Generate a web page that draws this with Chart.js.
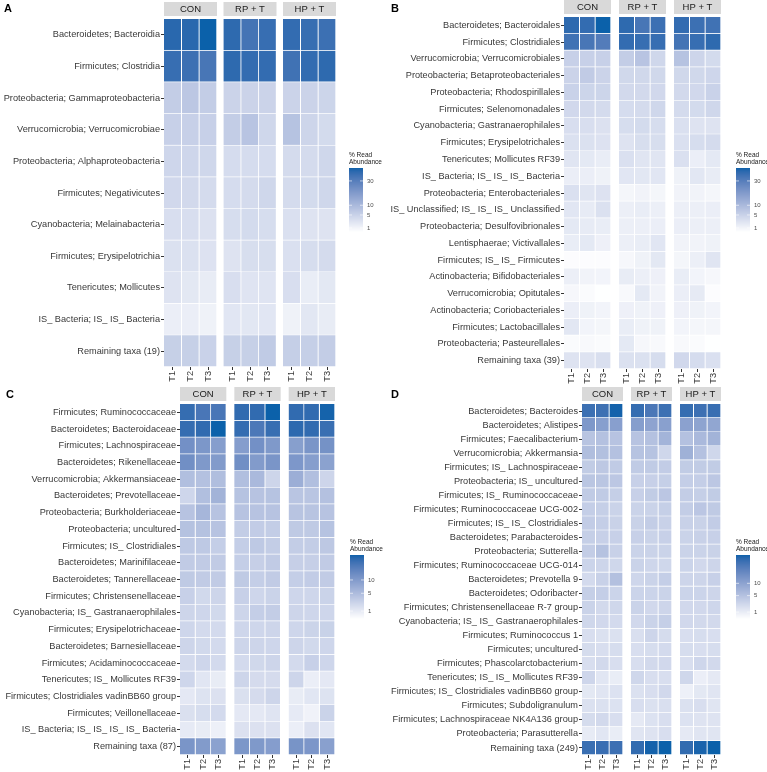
<!DOCTYPE html>
<html>
<head>
<meta charset="utf-8">
<script src="https://cdn.jsdelivr.net/npm/chart.js@4.4.0/dist/chart.umd.min.js"></script>
<style>
  body { margin: 0; background: #fff; width: 767px; height: 772px; position: relative; overflow: hidden; }
  canvas { position: absolute; }
</style>
</head>
<body>
<canvas id="chartA" width="384" height="386" style="left:0;top:0"></canvas>
<canvas id="chartB" width="383" height="386" style="left:384px;top:0"></canvas>
<canvas id="chartC" width="384" height="386" style="left:0;top:386px"></canvas>
<canvas id="chartD" width="383" height="386" style="left:384px;top:386px"></canvas>
<script>
// facets and sampling times (columns: CON T1..T3, RP + T T1..T3, HP + T T1..T3)
const facets = ['CON', 'RP + T', 'HP + T'];
const timepoints = ['T1', 'T2', 'T3'];

// A - class level
const taxaA = [
  'Bacteroidetes; Bacteroidia', 'Firmicutes; Clostridia', 'Proteobacteria; Gammaproteobacteria',
  'Verrucomicrobia; Verrucomicrobiae', 'Proteobacteria; Alphaproteobacteria', 'Firmicutes; Negativicutes',
  'Cyanobacteria; Melainabacteria', 'Firmicutes; Erysipelotrichia', 'Tenericutes; Mollicutes',
  'IS_ Bacteria; IS_ IS_ Bacteria', 'Remaining taxa (19)'
];
const abundanceA = [
  [41, 41, 45, 40, 35, 38, 39, 38, 37],
  [38, 37, 34, 40, 39, 39, 36, 39, 40],
  [5.9, 6.9, 5.9, 4.8, 4.8, 4.8, 4.8, 4.8, 4.6],
  [5.3, 5.3, 5.3, 5.9, 7.5, 4.2, 7.8, 4.5, 3.7],
  [4.3, 4.3, 4.2, 3.5, 3.5, 3.5, 3.6, 3.6, 4.2],
  [4.0, 3.9, 3.6, 3.5, 3.6, 4.2, 3.6, 3.7, 4.2],
  [3.2, 3.2, 2.8, 3.4, 3.7, 3.4, 3.0, 2.6, 2.6],
  [2.9, 2.9, 2.7, 2.6, 3.3, 3.3, 3.0, 3.4, 3.6],
  [2.6, 2.1, 1.7, 3.2, 2.5, 2.5, 3.2, 1.6, 2.1],
  [1.5, 1.5, 1.2, 2.3, 2.2, 2.3, 1.2, 2.2, 1.7],
  [5.4, 5.4, 5.0, 5.4, 5.4, 6.3, 5.5, 5.5, 5.9]
];
const breaksA = [1, 5, 10, 30];
const limitsA = [0.38, 45];

// B - order level
const taxaB = [
  'Bacteroidetes; Bacteroidales', 'Firmicutes; Clostridiales', 'Verrucomicrobia; Verrucomicrobiales',
  'Proteobacteria; Betaproteobacteriales', 'Proteobacteria; Rhodospirillales', 'Firmicutes; Selenomonadales',
  'Cyanobacteria; Gastranaerophilales', 'Firmicutes; Erysipelotrichales', 'Tenericutes; Mollicutes RF39',
  'IS_ Bacteria; IS_ IS_ IS_ Bacteria', 'Proteobacteria; Enterobacteriales', 'IS_ Unclassified; IS_ IS_ IS_ Unclassified',
  'Proteobacteria; Desulfovibrionales', 'Lentisphaerae; Victivallales', 'Firmicutes; IS_ IS_ Firmicutes',
  'Actinobacteria; Bifidobacteriales', 'Verrucomicrobia; Opitutales', 'Actinobacteria; Coriobacteriales',
  'Firmicutes; Lactobacillales', 'Proteobacteria; Pasteurellales', 'Remaining taxa (39)'
];
const abundanceB = [
  [40, 39, 45, 40, 34, 37, 39, 37, 36],
  [36, 34, 31, 39, 38, 38, 35, 38, 40],
  [5.3, 5.3, 5.3, 5.9, 7.5, 4.2, 7.8, 4.5, 3.7],
  [4.8, 6.2, 4.8, 4.1, 4.1, 4.1, 4.1, 4.1, 4.3],
  [5.0, 4.6, 4.6, 3.9, 3.9, 4.0, 3.9, 4.0, 5.0],
  [4.0, 3.9, 3.6, 3.5, 3.6, 4.2, 3.6, 3.7, 4.2],
  [3.2, 3.2, 2.8, 3.4, 3.7, 3.4, 3.0, 2.6, 2.6],
  [2.9, 2.9, 2.7, 2.6, 3.3, 3.3, 3.0, 3.4, 3.6],
  [2.4, 2.0, 1.6, 3.0, 2.4, 2.4, 3.0, 1.5, 2.0],
  [1.5, 1.5, 1.2, 2.3, 2.2, 2.3, 1.2, 2.2, 1.7],
  [3.0, 2.4, 2.7, 0.9, 1.1, 0.9, 1.1, 1.1, 0.9],
  [2.3, 1.8, 2.9, 1.4, 1.6, 1.4, 1.4, 1.4, 1.5],
  [2.0, 1.8, 1.6, 1.4, 1.4, 1.5, 1.5, 1.4, 1.4],
  [1.6, 2.0, 1.3, 1.4, 1.6, 2.3, 1.1, 1.1, 1.2],
  [0.5, 0.5, 0.5, 0.8, 1.2, 2.1, 0.9, 1.4, 2.4],
  [1.4, 1.1, 1.0, 1.7, 1.4, 1.3, 1.6, 1.0, 0.8],
  [0.8, 0.6, 0.4, 0.7, 2.0, 1.1, 1.5, 1.9, 0.5],
  [1.5, 1.2, 1.0, 1.3, 1.2, 1.3, 1.3, 1.2, 1.0],
  [2.2, 1.0, 0.9, 1.6, 1.2, 1.2, 1.0, 0.9, 0.9],
  [0.6, 0.7, 0.6, 2.0, 0.8, 0.7, 0.7, 0.6, 0.4],
  [2.6, 2.6, 3.1, 2.9, 2.9, 3.4, 4.0, 3.5, 3.0]
];
const breaksB = [1, 5, 10, 30];
const limitsB = [0.38, 45];

// C - family level
const taxaC = [
  'Firmicutes; Ruminococcaceae', 'Bacteroidetes; Bacteroidaceae', 'Firmicutes; Lachnospiraceae',
  'Bacteroidetes; Rikenellaceae', 'Verrucomicrobia; Akkermansiaceae', 'Bacteroidetes; Prevotellaceae',
  'Proteobacteria; Burkholderiaceae', 'Proteobacteria; uncultured', 'Firmicutes; IS_ Clostridiales',
  'Bacteroidetes; Marinifilaceae', 'Bacteroidetes; Tannerellaceae', 'Firmicutes; Christensenellaceae',
  'Cyanobacteria; IS_ Gastranaerophilales', 'Firmicutes; Erysipelotrichaceae', 'Bacteroidetes; Barnesiellaceae',
  'Firmicutes; Acidaminococcaceae', 'Tenericutes; IS_ Mollicutes RF39', 'Firmicutes; Clostridiales vadinBB60 group',
  'Firmicutes; Veillonellaceae', 'IS_ Bacteria; IS_ IS_ IS_ IS_ Bacteria', 'Remaining taxa (87)'
];
const abundanceC = [
  [20.5, 18, 18, 21, 21, 24, 21, 21, 23.5],
  [20.5, 21, 24, 20.7, 17.5, 20.3, 21.5, 21, 20],
  [12, 10.7, 9.5, 9.6, 12, 10.3, 9.3, 11, 11.7],
  [12.3, 10.3, 10, 12.3, 10, 11, 10.6, 9.4, 8.8],
  [4.6, 4.4, 4.7, 4.6, 5.3, 2.4, 6.8, 4.6, 2.4],
  [2.3, 4.6, 6.2, 4.2, 4.1, 4.2, 3.9, 3.9, 4.4],
  [4.1, 5.7, 4.1, 4.1, 4.1, 4.1, 4.0, 4.0, 4.1],
  [4.3, 4.3, 4.1, 3.1, 3.2, 3.1, 3.4, 3.4, 4.2],
  [3.5, 3.5, 3.0, 3.0, 3.5, 3.1, 3.1, 3.1, 3.6],
  [3.3, 3.3, 3.3, 3.0, 2.9, 3.3, 2.9, 2.9, 3.3],
  [3.4, 3.3, 3.3, 3.4, 3.0, 3.3, 3.0, 3.2, 3.3],
  [2.8, 2.1, 2.4, 2.8, 2.3, 2.6, 2.3, 2.3, 2.6],
  [2.4, 2.3, 2.1, 2.4, 3.0, 3.1, 2.4, 2.3, 2.3],
  [2.3, 2.0, 2.0, 2.3, 2.3, 2.4, 2.3, 2.5, 2.7],
  [2.4, 2.1, 2.0, 2.4, 2.4, 2.3, 2.4, 2.1, 2.3],
  [2.0, 2.3, 2.0, 2.0, 2.2, 2.4, 2.0, 2.8, 2.3],
  [2.3, 1.2, 0.9, 2.4, 1.9, 1.9, 2.4, 0.8, 1.1],
  [1.1, 1.4, 1.5, 1.6, 1.9, 2.4, 0.9, 1.2, 1.4],
  [1.6, 1.8, 2.0, 1.1, 1.1, 1.3, 1.0, 0.6, 2.6],
  [1.0, 0.9, 0.7, 1.5, 1.5, 1.5, 0.8, 1.5, 1.2],
  [11, 10, 8.8, 10.7, 10.3, 9.6, 11.3, 10.8, 9.1]
];
const breaksC = [1, 5, 10];
const limitsC = [0.2, 24];

// D - genus level
const taxaD = [
  'Bacteroidetes; Bacteroides', 'Bacteroidetes; Alistipes', 'Firmicutes; Faecalibacterium',
  'Verrucomicrobia; Akkermansia', 'Firmicutes; IS_ Lachnospiraceae', 'Proteobacteria; IS_ uncultured',
  'Firmicutes; IS_ Ruminococcaceae', 'Firmicutes; Ruminococcaceae UCG-002', 'Firmicutes; IS_ IS_ Clostridiales',
  'Bacteroidetes; Parabacteroides', 'Proteobacteria; Sutterella', 'Firmicutes; Ruminococcaceae UCG-014',
  'Bacteroidetes; Prevotella 9', 'Bacteroidetes; Odoribacter', 'Firmicutes; Christensenellaceae R-7 group',
  'Cyanobacteria; IS_ IS_ Gastranaerophilales', 'Firmicutes; Ruminococcus 1', 'Firmicutes; uncultured',
  'Firmicutes; Phascolarctobacterium', 'Tenericutes; IS_ IS_ Mollicutes RF39', 'Firmicutes; IS_ Clostridiales vadinBB60 group',
  'Firmicutes; Subdoligranulum', 'Firmicutes; Lachnospiraceae NK4A136 group', 'Proteobacteria; Parasutterella',
  'Remaining taxa (249)'
];
const abundanceD = [
  [23, 22.7, 27.5, 24, 20.6, 23, 24, 22.8, 23.5],
  [12.3, 10.8, 10.7, 11, 9.9, 10.6, 10.3, 9.8, 9.4],
  [4.7, 5.1, 4.8, 4.8, 5.1, 7.0, 5.1, 6.2, 7.2],
  [5.5, 5.3, 5.1, 4.9, 4.9, 2.6, 7.5, 5.1, 2.6],
  [3.8, 4.2, 3.9, 3.9, 3.9, 3.7, 3.8, 3.8, 3.8],
  [4.5, 4.5, 4.3, 3.3, 3.3, 3.4, 3.5, 3.5, 4.3],
  [3.9, 3.9, 3.4, 3.3, 3.8, 4.4, 3.6, 3.4, 3.8],
  [3.5, 3.4, 3.0, 3.0, 3.0, 3.4, 3.6, 4.4, 4.0],
  [3.7, 3.5, 3.1, 3.1, 3.6, 3.2, 3.2, 3.1, 3.7],
  [3.4, 3.3, 3.3, 3.3, 3.0, 3.3, 3.0, 3.2, 3.3],
  [3.6, 5.0, 3.2, 3.0, 3.0, 3.0, 3.0, 3.0, 3.1],
  [2.9, 2.8, 2.6, 3.0, 2.7, 2.6, 2.9, 2.5, 2.8],
  [2.3, 3.2, 5.2, 2.7, 3.0, 3.5, 2.8, 2.8, 3.3],
  [3.4, 3.5, 2.9, 2.9, 2.9, 3.0, 2.9, 2.9, 2.8],
  [3.0, 2.4, 2.6, 3.0, 2.5, 2.8, 2.5, 2.5, 2.7],
  [2.6, 2.5, 2.3, 2.5, 3.0, 3.4, 2.5, 2.4, 2.4],
  [2.0, 1.8, 1.8, 1.9, 2.8, 2.2, 2.0, 2.1, 2.0],
  [2.2, 2.0, 2.1, 2.0, 2.1, 2.3, 2.1, 2.0, 2.1],
  [2.0, 2.4, 2.0, 2.0, 2.4, 2.5, 2.0, 2.7, 2.4],
  [2.7, 1.4, 1.0, 2.6, 2.0, 2.0, 2.6, 0.9, 1.2],
  [1.3, 1.5, 1.7, 1.8, 2.0, 2.5, 0.8, 1.3, 1.5],
  [1.8, 1.8, 1.7, 2.0, 1.8, 1.9, 1.8, 2.0, 1.5],
  [2.2, 2.4, 2.0, 1.2, 1.7, 2.0, 1.7, 1.6, 1.6],
  [1.1, 1.4, 1.0, 1.5, 1.6, 2.0, 1.2, 1.5, 1.5],
  [23.2, 23.4, 22.8, 24.3, 27.5, 28, 24.3, 27, 28]
];
const breaksD = [1, 5, 10];
const limitsD = [0.23, 28];

// colour scale: white -> blue, interpolated in Lab, sqrt transformed
function toLin(c) { c /= 255; return c <= 0.04045 ? c / 12.92 : Math.pow((c + 0.055) / 1.055, 2.4); }
function toSrgb(c) {
  const v = c <= 0.0031308 ? 12.92 * c : 1.055 * Math.pow(c, 1 / 2.4) - 0.055;
  return Math.round(Math.max(0, Math.min(1, v)) * 255);
}
function rgbToLab(rgb) {
  const [r, g, b] = rgb.map(toLin);
  const X = (0.4124 * r + 0.3576 * g + 0.1805 * b) / 0.95047;
  const Y = 0.2126 * r + 0.7152 * g + 0.0722 * b;
  const Z = (0.0193 * r + 0.1192 * g + 0.9505 * b) / 1.08883;
  const f = t => t > 0.008856 ? Math.cbrt(t) : 7.787 * t + 16 / 116;
  return [116 * f(Y) - 16, 500 * (f(X) - f(Y)), 200 * (f(Y) - f(Z))];
}
function labToRgb(lab) {
  const fy = (lab[0] + 16) / 116, fx = fy + lab[1] / 500, fz = fy - lab[2] / 200;
  const inv = t => t * t * t > 0.008856 ? t * t * t : (t - 16 / 116) / 7.787;
  const X = inv(fx) * 0.95047, Y = inv(fy), Z = inv(fz) * 1.08883;
  const r = 3.2406 * X - 1.5372 * Y - 0.4986 * Z;
  const g = -0.9689 * X + 1.8758 * Y + 0.0415 * Z;
  const b = 0.0557 * X - 0.2040 * Y + 1.0570 * Z;
  return [toSrgb(r), toSrgb(g), toSrgb(b)];
}
const LOW = rgbToLab([255, 255, 255]);
const HIGH = rgbToLab([11, 97, 170]);

function scaleT(v, lim) {
  const t = (Math.sqrt(v) - Math.sqrt(lim[0])) / (Math.sqrt(lim[1]) - Math.sqrt(lim[0]));
  return Math.max(0, Math.min(1, t));
}
function fillColor(v, lim) {
  const t = scaleT(v, lim);
  const c = labToRgb(LOW.map((l, i) => l + (HIGH[i] - l) * t));
  return 'rgb(' + c.join(',') + ')';
}

const fontFamily = '"Liberation Sans", Arial, sans-serif';

// strips, panel letter and colour bar legend
const decorPlugin = {
  id: 'decor',
  afterDraw(chart, args, o) {
    const ctx = chart.ctx;
    const x = chart.scales.x;
    const area = chart.chartArea;
    ctx.save();
    // facet strips
    facets.forEach((name, f) => {
      const x0 = x.getPixelForValue(f * (3 + o.gap));
      const x1 = x.getPixelForValue(f * (3 + o.gap) + 3);
      ctx.fillStyle = '#d9d9d9';
      ctx.fillRect(x0, area.top - 17, x1 - x0, 14);
      ctx.fillStyle = '#1a1a1a';
      ctx.font = '9.5px ' + fontFamily;
      ctx.textAlign = 'center';
      ctx.textBaseline = 'middle';
      ctx.fillText(name, (x0 + x1) / 2, area.top - 10);
    });
    // panel letter
    ctx.fillStyle = '#000';
    ctx.font = 'bold 11px ' + fontFamily;
    ctx.textAlign = 'left';
    ctx.textBaseline = 'alphabetic';
    ctx.fillText(o.letter, o.letterX, 12);
    // legend
    const bx = o.legendX, bw = 14, top = o.barTop, bot = o.barTop + 64;
    ctx.fillStyle = '#1a1a1a';
    ctx.font = '6.5px ' + fontFamily;
    ctx.textBaseline = 'middle';
    ctx.fillText('% Read', bx, top - 13);
    ctx.fillText('Abundance', bx, top - 6);
    for (let y = top; y < bot; y++) {
      const t = 1 - (y + 0.5 - top) / (bot - top);
      const c = labToRgb(LOW.map((l, i) => l + (HIGH[i] - l) * t));
      ctx.fillStyle = 'rgb(' + c.join(',') + ')';
      ctx.fillRect(bx, y, bw, 1);
    }
    ctx.font = '6px ' + fontFamily;
    o.breaks.forEach(b => {
      const y = bot - scaleT(b, o.limits) * (bot - top);
      ctx.strokeStyle = '#fff';
      ctx.lineWidth = 0.6;
      ctx.beginPath();
      ctx.moveTo(bx, y); ctx.lineTo(bx + 3, y);
      ctx.moveTo(bx + bw - 3, y); ctx.lineTo(bx + bw, y);
      ctx.stroke();
      ctx.fillStyle = '#4d4d4d';
      ctx.fillText(String(b), bx + bw + 4, y);
    });
    ctx.restore();
  }
};

function makePanel(id, letter, taxa, values, breaks, limits, L) {
  const canvas = document.getElementById(id);
  const W = canvas.width, H = canvas.height;
  const datasets = [];
  const centers = [];
  for (let c = 0; c < 9; c++) {
    const x0 = Math.floor(c / 3) * (3 + L.gap) + (c % 3);
    centers.push(x0 + 0.5);
    datasets.push({
      label: facets[Math.floor(c / 3)] + ' ' + timepoints[c % 3],
      data: taxa.map(() => [x0, x0 + 1]),
      backgroundColor: values.map(row => fillColor(row[c], limits))
    });
  }
  const tickFont = { family: fontFamily, size: 9.2 };
  new Chart(canvas, {
    type: 'bar',
    data: { labels: taxa, datasets: datasets },
    options: {
      indexAxis: 'y',
      responsive: false,
      animation: false,
      events: [],
      layout: { padding: { top: L.top, right: W - L.right, bottom: 0, left: 0 } },
      datasets: {
        bar: {
          barPercentage: 1,
          categoryPercentage: 1,
          grouped: false,
          borderSkipped: false,
          borderColor: '#ffffff',
          borderWidth: { top: 0, left: 0, right: 1, bottom: 1 }
        }
      },
      plugins: {
        legend: { display: false },
        tooltip: { enabled: false },
        decor: { letter: letter, letterX: L.letterX, gap: L.gap, breaks: breaks, limits: limits, legendX: L.legendX, barTop: L.barTop }
      },
      scales: {
        x: {
          type: 'linear',
          min: 0,
          max: 9 + 2 * L.gap,
          afterFit: s => { s.height = H - L.bottom; },
          afterBuildTicks: s => { s.ticks = centers.map(v => ({ value: v })); },
          ticks: {
            autoSkip: false, minRotation: 90, maxRotation: 90, padding: 1,
            font: tickFont, color: '#383838',
            callback: (v, i) => timepoints[i % 3]
          },
          grid: { drawOnChartArea: false, tickLength: 3, color: '#333' },
          border: { display: false }
        },
        y: {
          afterFit: s => { s.width = L.left; },
          ticks: { autoSkip: false, padding: 1, font: tickFont, color: '#383838' },
          grid: { offset: false, drawOnChartArea: false, tickLength: 3, color: '#333' },
          border: { display: false }
        }
      }
    },
    plugins: [decorPlugin]
  });
}

makePanel('chartA', 'A', taxaA, abundanceA, breaksA, limitsA,
  { left: 164, right: 336, top: 19, bottom: 367, gap: 0.37, letterX: 4, legendX: 349, barTop: 168 });
makePanel('chartB', 'B', taxaB, abundanceB, breaksB, limitsB,
  { left: 180, right: 337, top: 17, bottom: 369, gap: 0.51, letterX: 7, legendX: 352, barTop: 168 });
makePanel('chartC', 'C', taxaC, abundanceC, breaksC, limitsC,
  { left: 180, right: 335, top: 18, bottom: 369, gap: 0.52, letterX: 6, legendX: 350, barTop: 169 });
makePanel('chartD', 'D', taxaD, abundanceD, breaksD, limitsD,
  { left: 198, right: 337, top: 18, bottom: 369, gap: 0.585, letterX: 7, legendX: 352, barTop: 169 });
</script>
</body>
</html>
